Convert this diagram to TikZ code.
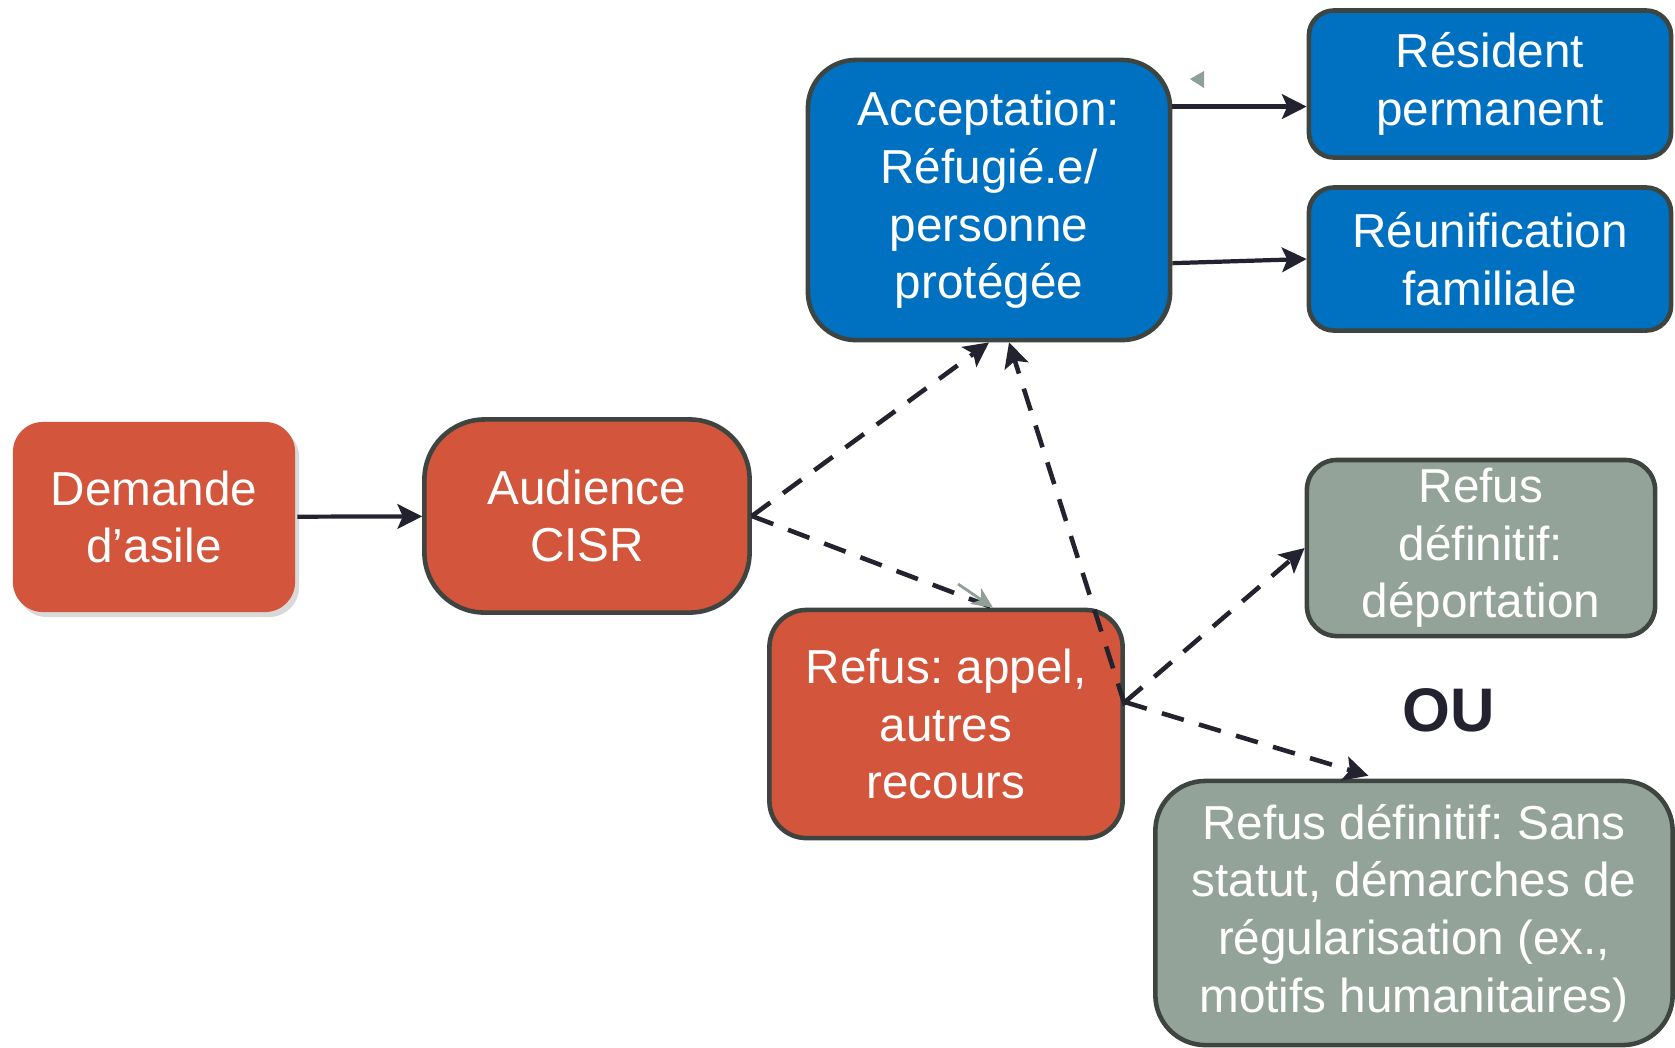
\documentclass[tikz,border=0pt]{standalone}
\usepackage{fontspec}
\setmainfont{Liberation Sans}
\frenchspacing
\usepackage{tikz}
\usetikzlibrary{arrows.meta,shadows}
\definecolor{refusorange}{RGB}{210,85,60}
\definecolor{acceptblue}{RGB}{0,112,192}
\definecolor{finalgrey}{RGB}{147,163,153}
\definecolor{boxline}{RGB}{62,68,64}
\definecolor{arrowink}{RGB}{35,35,48}
\definecolor{strayink}{RGB}{143,160,150}

\begin{document}
\begin{tikzpicture}[x=0.01cm,y=-0.01cm,
    box/.style={rectangle, draw=boxline, line width=1.3pt, text=white, align=center,
      inner sep=0pt, font=\fontsize{13.55pt}{16.4pt}\selectfont\frenchspacing},
    flow/.style={-{Stealth[length=7pt,width=7pt,inset=1.5pt]}, draw=arrowink, line width=1.2pt},
    maybe/.style={flow, line width=1.3pt, dash pattern=on 6.5pt off 4.5pt},
    stray/.style={-{Stealth[length=6pt,width=5.5pt]}, draw=strayink, line width=0.8pt}]
  \useasboundingbox (0,0) rectangle (1675,1047);

   \draw (154,517) node[box, draw=none, fill=refusorange, rounded corners=0.3cm,
      minimum width=2.82cm, minimum height=1.9cm,
      drop shadow={shadow xshift=0.04cm, shadow yshift=-0.05cm, opacity=0.3}] (demande) {Demande\\d’asile};
    \draw (587,516) node[box, fill=refusorange, rounded corners=0.6cm,
      minimum width=3.25cm, minimum height=1.93cm] (audience) {Audience\\CISR};
     \draw (989,200) node[box, fill=acceptblue, rounded corners=0.48cm,
      minimum width=3.62cm, minimum height=2.8cm] (accept) {Acceptation:\\Réfugié.e/\\personne\\protégée};
  \draw (1490,84) node[box, fill=acceptblue, rounded corners=0.25cm,
      minimum width=3.62cm, minimum height=1.47cm] (resident) {Résident\\permanent};
  \draw (1490,259) node[box, fill=acceptblue, rounded corners=0.25cm,
      minimum width=3.62cm, minimum height=1.43cm] (reunif) {Réunification\\familiale};
    \draw (946,724) node[box, fill=refusorange, rounded corners=0.37cm,
      minimum width=3.53cm, minimum height=2.28cm] (refusappel) {Refus: appel,\\autres\\recours};
    \draw (1481,548) node[box, fill=finalgrey, rounded corners=0.3cm,
      minimum width=3.48cm, minimum height=1.76cm] (deport) {Refus\\définitif:\\déportation};
    \draw (1414,913) node[box, fill=finalgrey, rounded corners=0.5cm,
      minimum width=5.17cm, minimum height=2.64cm] (sansstatut) {Refus définitif: Sans\\statut, démarches de\\régularisation (ex.,\\motifs humanitaires)};
   \draw (1449,710) node[text=arrowink, font=\fontsize{17.5pt}{20pt}\selectfont\bfseries] (ou) {OU};
  \coordinate (strayfoot) at (958,584);

      \draw[flow] (demande) -- (audience);
      \draw[maybe] (audience.east) -- (accept.south);
      \draw[maybe, -] (audience.east) -- (refusappel.68);
      \draw[stray] (strayfoot) -- (refusappel.68);
       \draw[maybe] (refusappel.6) -- (accept.278);
       \draw[maybe] (refusappel.7) -- (deport.west);
       \draw[maybe, shorten >=0.1cm] (refusappel.7) -- (sansstatut.105);
      \draw[flow] (accept.27) -- (accept.27 -| resident.west);
      \draw[flow] (accept.-19) -- (reunif.west);
  \fill[strayink] (1190,79) -- (1204,71) -- (1204,88) -- cycle;
\end{tikzpicture}
\end{document}
